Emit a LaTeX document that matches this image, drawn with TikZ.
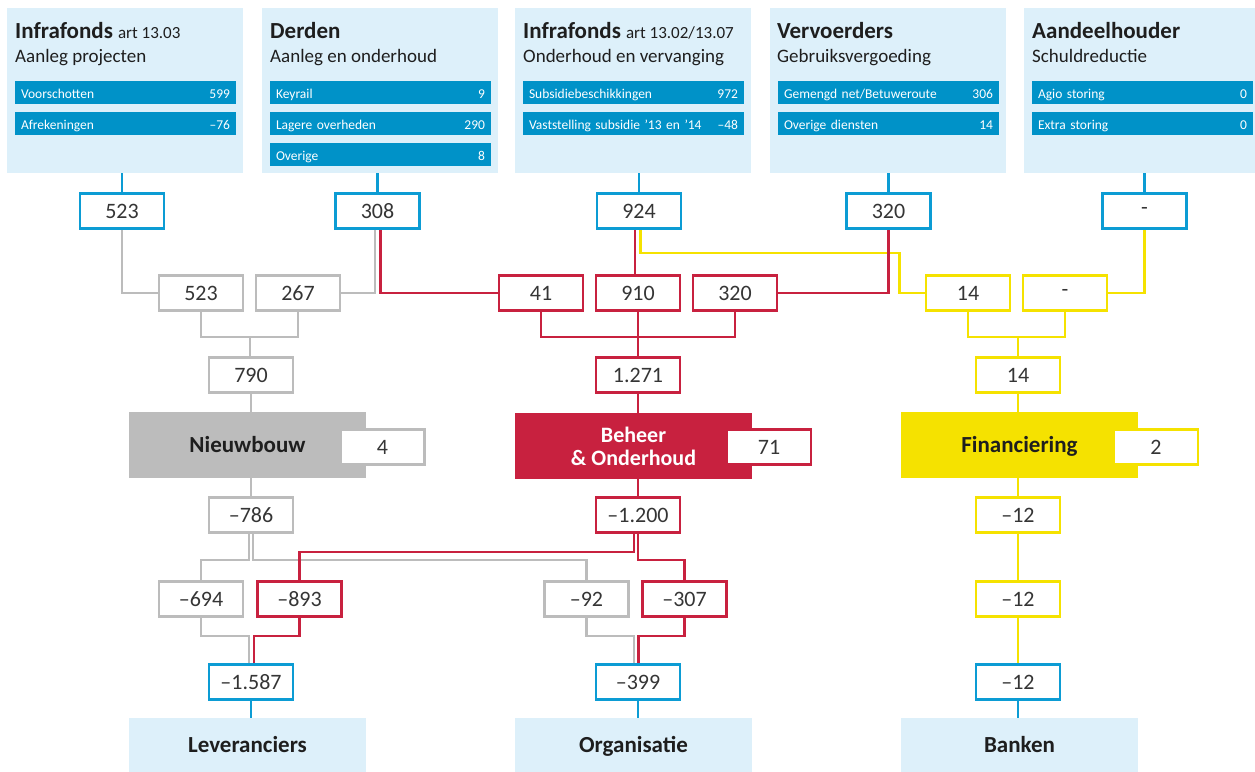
\documentclass[tikz,border=0pt]{standalone}
\usepackage{fontspec}
\setmainfont{Carlito}
\usetikzlibrary{backgrounds}
\definecolor{lblue}{HTML}{DDF0FA}
\definecolor{dblue}{HTML}{0092C8}
\definecolor{cblue}{HTML}{0C9CD4}
\definecolor{cgrey}{HTML}{BCBCBC}
\definecolor{cred}{HTML}{C8213F}
\definecolor{cyell}{HTML}{F5E200}
\definecolor{ink}{HTML}{1E1E1E}

\begin{document}
\begin{tikzpicture}[x=1pt,y=-1pt]
    \tikzset{%
      src/.style={fill=lblue, inner sep=0pt, minimum width=236pt,
        minimum height=165pt},
      ttl/.style={anchor=base west, inner sep=0pt, text=ink,
        font=\fontsize{23}{26}\selectfont},
      sub/.style={anchor=base west, inner sep=0pt, text=ink,
        font=\fontsize{19}{22}\selectfont},
      bar/.style={fill=dblue, inner xsep=6pt, inner ysep=0pt, minimum
        height=23pt, text width=209pt, align=left, text height=12pt,
        text depth=1pt, text=white, font=\fontsize{13.5}{15}\selectfont},
      num/.style={draw, fill=white, line width=2.8pt, inner sep=0pt,
        minimum width=84pt, minimum height=35pt, text=ink!90,
        font=\fontsize{22}{24}\selectfont},
      bnum/.style={num, draw=cblue},
      gnum/.style={num, draw=cgrey},
      rnum/.style={num, draw=cred},
      ynum/.style={num, draw=cyell},
      cat/.style={inner sep=0pt, minimum width=237pt, minimum height=66pt,
        align=center, font=\fontsize{23}{23}\selectfont\bfseries},
      onel/.style={text height=16pt, text depth=1pt},
      dest/.style={cat, onel, fill=lblue, text=ink, minimum height=54pt},
      lb/.style={draw=cblue, line width=2.8pt},
      lg/.style={draw=cgrey, line width=2.8pt},
      lr/.style={draw=cred, line width=2.8pt},
      ly/.style={draw=cyell, line width=2.8pt},
    }
    \useasboundingbox (0,0) rectangle (1255,771);

    % sources
    \node[src] (srcA) at (125,90.5) {};
    \node[src] (srcB) at (380,90.5) {};
    \node[src] (srcC) at (632.5,90.5) {};
    \node[src] (srcD) at (888,90.5) {};
    \node[src, minimum width=231pt] (srcE) at (1139.5,90.5) {};

    \node[ttl] at (15,38) {\textbf{Infrafonds} {\fontsize{17}{20}\selectfont art 13.03}};
    \node[sub] at (15,62) {Aanleg projecten};
    \node[ttl] at (270,38) {\textbf{Derden}};
    \node[sub] at (270,62) {Aanleg en onderhoud};
    \node[ttl] at (523,38) {\textbf{Infrafonds} {\fontsize{17}{20}\selectfont art 13.02/13.07}};
    \node[sub] at (523,62) {Onderhoud en vervanging};
    \node[ttl] at (777,38) {\textbf{Vervoerders}};
    \node[sub] at (777,62) {Gebruiksvergoeding};
    \node[ttl] at (1032,38) {\textbf{Aandeelhouder}};
    \node[sub] at (1032,62) {Schuldreductie};

    \node[bar] (barA1) at (125.5,92.5) {Voorschotten\hfill 599};
    \node[bar] (barA2) at (125.5,123.5) {Afrekeningen\hfill --76};
    \node[bar] (barB1) at (380.5,92.5) {Keyrail\hfill 9};
    \node[bar] (barB2) at (380.5,123.5) {Lagere overheden\hfill 290};
    \node[bar] (barB3) at (380.5,154.5) {Overige\hfill 8};
    \node[bar] (barC1) at (633.5,92.5) {Subsidiebeschikkingen\hfill 972};
    \node[bar] (barC2) at (633.5,123.5) {Vaststelling subsidie ’13 en ’14\hfill --48};
    \node[bar] (barD1) at (888.5,92.5) {Gemengd net/Betuweroute\hfill 306};
    \node[bar] (barD2) at (888.5,123.5) {Overige diensten\hfill 14};
    \node[bar] (barE1) at (1142.5,92.5) {Agio storing\hfill 0};
    \node[bar] (barE2) at (1142.5,123.5) {Extra storing\hfill 0};

    % incoming
    \node[bnum] (inA) at (122,211) {523};
    \node[bnum] (inB) at (377.5,211) {308};
    \node[bnum] (inC) at (639,211) {924};
    \node[bnum] (inD) at (888.5,211) {320};
    \node[bnum] (inE) at (1144.5,211) {-};

    \node[gnum] (nwA) at (201,293) {523};
    \node[gnum] (nwB) at (298,293) {267};
    \node[rnum] (boA) at (541,293) {41};
    \node[rnum] (boB) at (638,293) {910};
    \node[rnum] (boC) at (735,293) {320};
    \node[ynum] (fiA) at (968,293) {14};
    \node[ynum] (fiB) at (1065,293) {-};

    \node[gnum] (nwT) at (251,375) {790};
    \node[rnum] (boT) at (638,375) {1.271};
    \node[ynum] (fiT) at (1018,375) {14};

    % activities
    \node[cat, onel, fill=cgrey, text=ink] (nw) at (247.5,445) {Nieuwbouw};
    \node[cat, fill=cred, text=white, font=\fontsize{22}{23}\selectfont\bfseries]
      (bo) at (633.5,446) {Beheer\\\& Onderhoud};
    \node[cat, onel, fill=cyell, text=ink] (fi) at (1019.5,445) {Financiering};
    \node[gnum] (nwV) at (382.5,447) {4};
    \node[rnum] (boV) at (769,447) {71};
    \node[ynum] (fiV) at (1156,447) {2};

    % outgoing
    \node[gnum] (nwO) at (251,515) {--786};
    \node[rnum] (boO) at (638,515) {--1.200};
    \node[ynum] (fiO) at (1018,515) {--12};

    \node[gnum] (nwL) at (201,599) {--694};
    \node[rnum] (boL) at (299.5,599) {--893};
    \node[gnum] (nwG) at (586.5,599) {--92};
    \node[rnum] (boG) at (684.5,599) {--307};
    \node[ynum] (fiL) at (1018,599) {--12};

    \node[bnum] (lev) at (251,682) {--1.587};
    \node[bnum] (org) at (638,682) {--399};
    \node[bnum] (bank) at (1018,682) {--12};

    \node[dest] (levB) at (247.5,745) {Leveranciers};
    \node[dest] (orgB) at (633.5,745) {Organisatie};
    \node[dest] (bankB) at (1019.5,745) {Banken};

    % bends
    \coordinate (yk) at (899.5,253);
    \coordinate (nwJ) at (250,337);
    \coordinate (boJ) at (638,337);
    \coordinate (fiJ) at (1018,337);
    \coordinate (sp5) at (0,560);
    \coordinate (sp5r) at (0,552);
    \coordinate (sp6) at (0,636);
    \coordinate (inBl) at ([xshift=-2.5pt]inB.south);
    \coordinate (inBr) at ([xshift=3pt]inB.south);
    \coordinate (inCl) at ([xshift=-4pt]inC.south);
    \coordinate (inCr) at ([xshift=1.5pt]inC.south);
    \coordinate (nwOl) at ([xshift=-2pt]nwO.south);
    \coordinate (nwOr) at ([xshift=2pt]nwO.south);
    \coordinate (boOl) at ([xshift=-4pt]boO.south);
    \coordinate (boOr) at (boO.south);
    \coordinate (levl) at ([xshift=-2pt]lev.north);
    \coordinate (levr) at ([xshift=3pt]lev.north);
    \coordinate (orgl) at ([xshift=-4pt]org.north);
    \coordinate (orgr) at ([xshift=0.5pt]org.north);

    \begin{scope}[on background layer]
      \draw[lb] (srcA.south -| inA) -- (inA);
      \draw[lb] (srcB.south -| inB) -- (inB);
      \draw[lb] (srcC.south -| inC) -- (inC);
      \draw[lb] (srcD.south -| inD) -- (inD);
      \draw[lb] (srcE.south -| inE) -- (inE);

      % grey
      \draw[lg] (inA) |- (nwA);
      \draw[lg] (inBl) |- (nwB);
      \draw[lg] (nwA) |- (nwJ) -| (nwB);
      \draw[lg] (nwJ) -- (nwJ |- nwT.north);
      \draw[lg] (nwT) -- (nwT |- nw.north);
      \draw[lg] (nw.south -| nwO) -- (nwO);
      \draw[lg] (nwOl) |- (nwL.north |- sp5) -- (nwL);
      \draw[lg] (nwOr) |- (nwG.north |- sp5) -- (nwG);
      \draw[lg] (nwL) |- (levl |- sp6) -- (levl);
      \draw[lg] (nwG) |- (orgl |- sp6) -- (orgl);

      % yellow
      \draw[ly] (inCr) |- (yk) |- (fiA);
      \draw[ly] (inE) |- (fiB);
      \draw[ly] (fiA) |- (fiJ) -| (fiB);
      \draw[ly] (fiJ) -- (fiT);
      \draw[ly] (fiT) -- (fiT |- fi.north);
      \draw[ly] (fi.south -| fiO) -- (fiO) -- (fiL) -- (bank);

      % red
      \draw[lr] (inBr) |- (boA);
      \draw[lr] (inCl) -- (inCl |- boB.north);
      \draw[lr] (inD) |- (boC);
      \draw[lr] (boA) |- (boJ) -| (boC);
      \draw[lr] (boB) -- (boT);
      \draw[lr] (boT) -- (boT |- bo.north);
      \draw[lr] (bo.south -| boO) -- (boO);
      \draw[lr] (boOl) |- (boL.north |- sp5r) -- (boL);
      \draw[lr] (boOr) |- (boG.north |- sp5) -- (boG);
      \draw[lr] (boL) |- (levr |- sp6) -- (levr);
      \draw[lr] (boG) |- (orgr |- sp6) -- (orgr);

      \draw[lb] (lev) -- (lev |- levB.north);
      \draw[lb] (org) -- (org |- orgB.north);
      \draw[lb] (bank) -- (bank |- bankB.north);
    \end{scope}
\end{tikzpicture}
\end{document}
